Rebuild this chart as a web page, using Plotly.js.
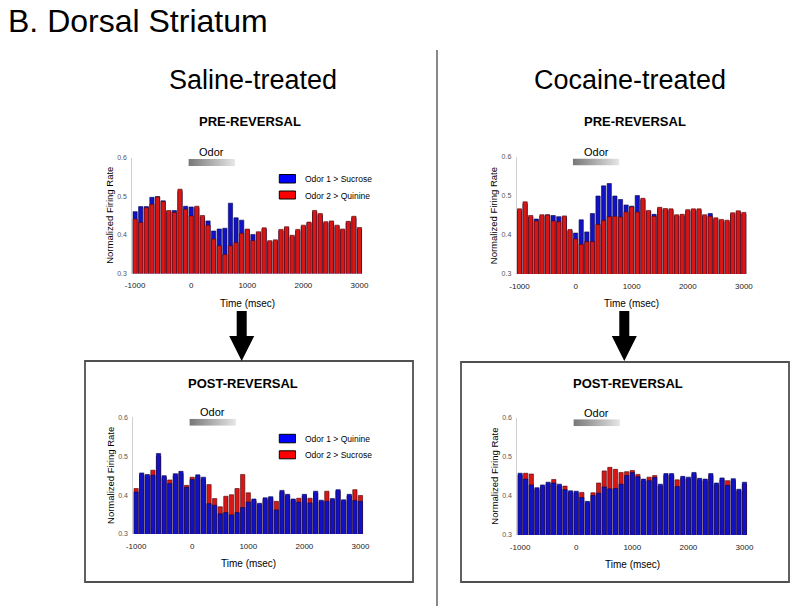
<!DOCTYPE html>
<html>
<head>
<meta charset="utf-8">
<script src="https://cdn.plot.ly/plotly-3.0.1.min.js"></script>
<style>html,body{margin:0;padding:0;background:#fff;}#chart{width:800px;height:615px;}</style>
</head>
<body>
<div id="chart"></div>
<script>
// ---- data ----
const timeMs = [-1000,-900,-800,-700,-600,-500,-400,-300,-200,-100,0,100,200,300,400,500,600,700,800,900,1000,1100,1200,1300,1400,1500,1600,1700,1800,1900,2000,2100,2200,2300,2400,2500,2600,2700,2800,2900,3000];
const xTickVals = [-1000,0,1000,2000,3000];
const xTickText = ['-1000','0','1000','2000','3000'];
const yTickVals = [0.3,0.4,0.5,0.6];
const yTickText = ['0.3','0.4','0.5','0.6'];

// Saline-treated, pre-reversal
const salinePreOdor1Sucrose = [0.460,0.473,0.473,0.497,0.499,0.488,0.460,0.463,0.512,0.474,0.472,0.470,0.446,0.436,0.410,0.415,0.417,0.482,0.444,0.438,0.412,0.401,0.405,0.415,0.381,0.384,0.410,0.418,0.395,0.410,0.421,0.430,0.458,0.451,0.430,0.432,0.421,0.411,0.431,0.444,0.415];
const salinePreOdor2Quinine = [0.441,0.432,0.470,0.479,0.498,0.486,0.463,0.458,0.518,0.466,0.449,0.474,0.450,0.425,0.389,0.372,0.349,0.372,0.380,0.404,0.415,0.385,0.408,0.418,0.385,0.387,0.414,0.421,0.399,0.414,0.425,0.433,0.463,0.455,0.434,0.436,0.425,0.415,0.435,0.448,0.419];
// Cocaine-treated, pre-reversal
const cocainePreOdor1Sucrose = [0.462,0.480,0.446,0.441,0.448,0.452,0.450,0.447,0.446,0.410,0.405,0.439,0.408,0.455,0.500,0.526,0.532,0.500,0.491,0.477,0.474,0.501,0.490,0.460,0.453,0.467,0.464,0.463,0.448,0.449,0.461,0.463,0.463,0.448,0.455,0.440,0.436,0.434,0.453,0.458,0.454];
const cocainePreOdor2Quinine = [0.467,0.485,0.450,0.436,0.452,0.451,0.436,0.434,0.449,0.414,0.390,0.376,0.383,0.383,0.427,0.437,0.447,0.448,0.446,0.459,0.472,0.459,0.494,0.463,0.448,0.471,0.468,0.467,0.452,0.453,0.465,0.467,0.467,0.452,0.448,0.444,0.440,0.438,0.457,0.462,0.458];
// Saline-treated, post-reversal
const salinePostOdor1Quinine = [0.408,0.457,0.453,0.451,0.507,0.450,0.430,0.455,0.461,0.420,0.440,0.452,0.446,0.378,0.374,0.352,0.355,0.349,0.355,0.368,0.382,0.390,0.379,0.393,0.396,0.362,0.412,0.402,0.390,0.382,0.402,0.380,0.410,0.387,0.384,0.391,0.414,0.388,0.402,0.386,0.384];
const salinePostOdor2Sucrose = [0.417,0.452,0.448,0.464,0.500,0.445,0.439,0.450,0.455,0.425,0.446,0.447,0.440,0.427,0.391,0.370,0.397,0.401,0.417,0.453,0.406,0.385,0.375,0.388,0.392,0.384,0.407,0.398,0.386,0.392,0.398,0.392,0.405,0.383,0.410,0.387,0.410,0.384,0.398,0.414,0.399];
// Cocaine-treated, post-reversal
const cocainePostOdor1Quinine = [0.458,0.443,0.428,0.421,0.428,0.435,0.433,0.430,0.416,0.413,0.412,0.396,0.386,0.401,0.407,0.423,0.418,0.419,0.430,0.452,0.460,0.449,0.443,0.439,0.447,0.430,0.457,0.457,0.424,0.450,0.448,0.460,0.445,0.443,0.457,0.433,0.446,0.427,0.444,0.417,0.435];
const cocainePostOdor2Sucrose = [0.453,0.458,0.456,0.416,0.423,0.430,0.442,0.425,0.425,0.408,0.407,0.409,0.381,0.408,0.433,0.464,0.473,0.468,0.460,0.462,0.465,0.455,0.438,0.448,0.452,0.425,0.452,0.452,0.441,0.445,0.443,0.455,0.440,0.438,0.452,0.428,0.441,0.439,0.439,0.412,0.430];

// ---- styling ----
const FONT = 'Liberation Sans, Arial, Helvetica, sans-serif';
const BLUE = '#1212c4', BLUE_LINE = '#05054a';
const RED = '#d81616', RED_LINE = '#4a0505';
const BAR_W = 76;
const W = 800, H = 615;
const px = x => x / W;
const py = y => 1 - y / H;

function barTrace(y, color, line, xa, ya, name) {
  return {type:'bar', x: timeMs, y: y, width: BAR_W, name: name, xaxis: xa, yaxis: ya,
    marker:{color: color, line:{color: line, width: 0.6}}, showlegend:false, hoverinfo:'x+y'};
}

const data = [
  // pre: blue behind, red front
  barTrace(salinePreOdor1Sucrose, BLUE, BLUE_LINE, 'x', 'y', 'Odor 1 > Sucrose'),
  barTrace(salinePreOdor2Quinine, RED, RED_LINE, 'x', 'y', 'Odor 2 > Quinine'),
  barTrace(cocainePreOdor1Sucrose, BLUE, BLUE_LINE, 'x2', 'y2', 'Odor 1 > Sucrose'),
  barTrace(cocainePreOdor2Quinine, RED, RED_LINE, 'x2', 'y2', 'Odor 2 > Quinine'),
  // post: red behind, blue front
  barTrace(salinePostOdor2Sucrose, RED, RED_LINE, 'x3', 'y3', 'Odor 2 > Sucrose'),
  barTrace(salinePostOdor1Quinine, BLUE, BLUE_LINE, 'x3', 'y3', 'Odor 1 > Quinine'),
  barTrace(cocainePostOdor2Sucrose, RED, RED_LINE, 'x4', 'y4', 'Odor 2 > Sucrose'),
  barTrace(cocainePostOdor1Quinine, BLUE, BLUE_LINE, 'x4', 'y4', 'Odor 1 > Quinine')
];

function xAxis(dom, anchor) {
  return {domain: dom, anchor: anchor, range:[-1050,3050], tickmode:'array', tickvals:xTickVals, ticktext:xTickText,
    showgrid:false, zeroline:false, showline:false, ticks:'outside', ticklen:4, tickcolor:'rgba(0,0,0,0)',
    tickfont:{family:FONT, size:8, color:'#222'}, fixedrange:true};
}
function yAxis(dom, anchor) {
  return {domain: dom, anchor: anchor, range:[0.3,0.6], tickmode:'array', tickvals:yTickVals, ticktext:yTickText,
    showgrid:false, zeroline:false, showline:true, linecolor:'#cfcfcf', linewidth:1, ticks:'outside', ticklen:3,
    tickcolor:'rgba(0,0,0,0)', tickfont:{family:FONT, size:7, color:'#555'}, fixedrange:true};
}

// plot rectangles in pixels [left, right, top, bottom]
const P = {
  tl:[132.3, 362.3, 157.5, 273.5],
  tr:[516.7, 746.7, 157, 274],
  bl:[133.3, 363.3, 417.3, 534],
  br:[517.3, 747.3, 417.7, 535]
};
const xd = r => [px(r[0]), px(r[1])];
const yd = r => [py(r[3]), py(r[2])];

const shapes = [];
const annotations = [];
const images = [];

function ann(text, x, y, size, opts) {
  annotations.push(Object.assign({text:text, x:px(x), y:py(y), xref:'paper', yref:'paper', showarrow:false,
    xanchor:'center', yanchor:'middle', font:{family:FONT, size:size, color:'#000'}}, opts || {}));
}

// titles
ann('B. Dorsal Striatum', 6, 21.5, 32, {xanchor:'left'});
ann('Saline-treated', 253, 80, 27);
ann('Cocaine-treated', 630, 80, 27);
ann('<b>PRE-REVERSAL</b>', 250, 121.5, 13);
ann('<b>PRE-REVERSAL</b>', 635, 121.5, 13);
ann('<b>POST-REVERSAL</b>', 243, 383.5, 13);
ann('<b>POST-REVERSAL</b>', 628, 383.5, 13);

// gradient odor bar
const gradSvg = '<svg xmlns="http://www.w3.org/2000/svg" width="100" height="10" preserveAspectRatio="none"><defs><linearGradient id="g" x1="0" x2="1" y1="0" y2="0"><stop offset="0" stop-color="#777"/><stop offset="1" stop-color="#e6e6e6"/></linearGradient></defs><rect width="100" height="10" fill="url(#g)"/></svg>';
const gradSrc = 'data:image/svg+xml;charset=utf-8,' + encodeURIComponent(gradSvg);

function panelDecor(r, legendLabels) {
  const x0 = r[0], top = r[2], bottom = r[3];
  const sx = (t) => r[0] + (t + 1050) / 4100 * (r[1] - r[0]);
  const ox0 = sx(-50), ox1 = sx(780);
  images.push({source: gradSrc, xref:'paper', yref:'paper', x:px(ox0), y:py(top + 1.5), sizex:px(ox1) - px(ox0),
    sizey:(7/H), sizing:'stretch', xanchor:'left', yanchor:'top', layer:'above'});
  ann('Odor', (ox0 + ox1) / 2, top - 5, 11);
  ann('Normalized Firing Rate', x0 - 23, (top + bottom) / 2, 9.5, {textangle:-90});
  ann('Time (msec)', (r[0] + r[1]) / 2, bottom + 29.5, 10);
  if (legendLabels) {
    const lx0 = 279.3, lx1 = 295.5;
    shapes.push({type:'rect', xref:'paper', yref:'paper', x0:px(lx0), x1:px(lx1), y0:py(top + 25.5), y1:py(top + 17),
      fillcolor:'#0000ff', line:{color:'#000', width:1}});
    shapes.push({type:'rect', xref:'paper', yref:'paper', x0:px(lx0), x1:px(lx1), y0:py(top + 41.5), y1:py(top + 33.5),
      fillcolor:'#ff0000', line:{color:'#000', width:1}});
    ann(legendLabels[0], 302.5, top + 21.5, 8.5, {xanchor:'left'});
    ann(legendLabels[1], 302.5, top + 38, 8.5, {xanchor:'left'});
  }
}
panelDecor(P.tl, ['Odor 1 > Sucrose', 'Odor 2 > Quinine']);
panelDecor(P.tr, null);
panelDecor(P.bl, ['Odor 1 > Quinine', 'Odor 2 > Sucrose']);
panelDecor(P.br, null);

// arrows
function arrow(cx) {
  const pts = [[cx-5,311],[cx+5,311],[cx+5,336],[cx+12.5,336],[cx,361],[cx-12.5,336],[cx-5,336]];
  const path = 'M' + pts.map(p => px(p[0]).toFixed(5) + ',' + py(p[1]).toFixed(5)).join(' L') + ' Z';
  shapes.push({type:'path', xref:'paper', yref:'paper', path:path, fillcolor:'#000', line:{color:'#000', width:0}});
}
arrow(241.7);
arrow(624.3);

// boxes
shapes.push({type:'rect', xref:'paper', yref:'paper', x0:px(85), x1:px(413), y0:py(582), y1:py(361),
  fillcolor:'rgba(0,0,0,0)', line:{color:'#505050', width:1.8}, layer:'below'});
shapes.push({type:'rect', xref:'paper', yref:'paper', x0:px(461), x1:px(789), y0:py(582), y1:py(362),
  fillcolor:'rgba(0,0,0,0)', line:{color:'#505050', width:1.8}, layer:'below'});
// divider
shapes.push({type:'line', xref:'paper', yref:'paper', x0:px(437), x1:px(437), y0:py(50), y1:py(606),
  line:{color:'#111', width:1}});

const layout = {
  width: W, height: H, margin:{l:0, r:0, t:0, b:0}, paper_bgcolor:'#fff', plot_bgcolor:'#fff',
  barmode:'overlay', bargap:0, showlegend:false, font:{family:FONT},
  xaxis: xAxis(xd(P.tl), 'y'), yaxis: yAxis(yd(P.tl), 'x'),
  xaxis2: xAxis(xd(P.tr), 'y2'), yaxis2: yAxis(yd(P.tr), 'x2'),
  xaxis3: xAxis(xd(P.bl), 'y3'), yaxis3: yAxis(yd(P.bl), 'x3'),
  xaxis4: xAxis(xd(P.br), 'y4'), yaxis4: yAxis(yd(P.br), 'x4'),
  shapes: shapes, annotations: annotations, images: images
};

Plotly.newPlot('chart', data, layout, {displayModeBar:false, staticPlot:true});
</script>
</body>
</html>
